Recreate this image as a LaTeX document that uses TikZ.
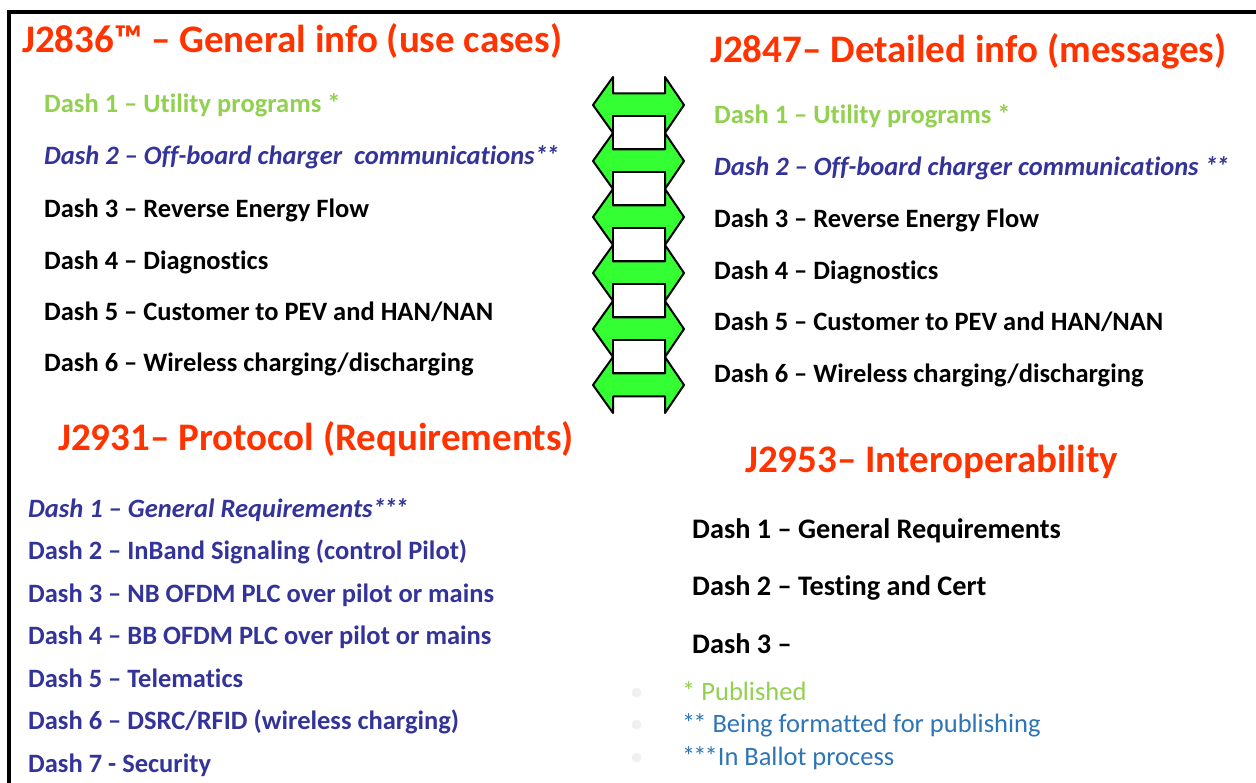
\documentclass[tikz,border=0pt]{standalone}
\usepackage{fontspec}
\setmainfont[Ligatures={NoCommon}]{Carlito}
\definecolor{titlered}{HTML}{FF3300}
\definecolor{pubgreen}{HTML}{92D050}
\definecolor{dashblue}{HTML}{333399}
\definecolor{noteblue}{HTML}{2E75B6}
\definecolor{arrowgreen}{HTML}{33FF33}
% tightly set asterisks
\newcommand\twostars{*\kern-2pt*}
\newcommand\threestars{*\kern-2pt*\kern-2pt*}
\begin{document}
\begin{tikzpicture}[x=1pt,y=-1pt,
  title/.style={anchor=base west, inner sep=0pt, text=titlered,
    font=\fontsize{39}{39}\selectfont\bfseries},
  item/.style={anchor=base west, inner sep=0pt,
    font=\fontsize{26.5}{26.5}\selectfont\bfseries},
  bigitem/.style={anchor=base west, inner sep=0pt,
    font=\fontsize{28.3}{28.3}\selectfont\bfseries},
  note/.style={anchor=base west, inner sep=0pt,
    font=\fontsize{26.5}{26.5}\selectfont},
  pub/.style={text=pubgreen},
  blue/.style={text=dashblue},
  arrowbox/.style={fill=arrowgreen, draw=black, line width=2pt, line join=round},
  rung/.style={fill=white, draw=black, line width=2pt}]
\useasboundingbox (0,0) rectangle (1256,783);
\fill[white] (0,0) rectangle (1256,783);
% frame
\draw[line width=4pt] (9,783) -- (9,12) -- (1256,12);

% ladder of double arrows
\foreach \i in {0,...,5} {
  \pgfmathsetmacro\cy{105+56*\i}
  \draw[arrowbox] (593,\cy) -- (613,{\cy-28}) -- (613,{\cy-11.5}) -- (665,{\cy-11.5})
    -- (665,{\cy-28}) -- (684,\cy) -- (665,{\cy+28}) -- (665,{\cy+11.5})
    -- (613,{\cy+11.5}) -- (613,{\cy+28}) -- cycle;
}
\foreach \i in {0,...,4} {
  \pgfmathsetmacro\ya{105+56*\i+11.5}
  \pgfmathsetmacro\yb{105+56*(\i+1)-11.5}
  \draw[rung] (613,\ya) rectangle (665,\yb);
}

% J2836
\node[title] (t1) at (22,53) {J2836™ – General info (use cases)};
\node[item,pub] (a1) at (44,113) {Dash 1 – Utility programs *};
\node[item,blue] (a2) at (44,165) {\itshape Dash 2 – Off-board charger\ \ communications\twostars};
\node[item] (a3) at (44,218) {Dash 3 – Reverse Energy Flow};
\node[item] (a4) at (44,270) {Dash 4 – Diagnostics};
\node[item] (a5) at (44,321) {Dash 5 – Customer to PEV and HAN/NAN};
\node[item] (a6) at (44,372) {Dash 6 – Wireless charging/discharging};

% J2847
\node[title] (t2) at (710,63) {J2847– Detailed info (messages)};
\node[item,pub] (b1) at (714,124) {Dash 1 – Utility programs *};
\node[item,blue] (b2) at (714,176) {\itshape Dash 2 – Off-board charger communications \twostars};
\node[item] (b3) at (714,228) {Dash 3 – Reverse Energy Flow};
\node[item] (b4) at (714,280) {Dash 4 – Diagnostics};
\node[item] (b5) at (714,331) {Dash 5 – Customer to PEV and HAN/NAN};
\node[item] (b6) at (714,383) {Dash 6 – Wireless charging/discharging};

% J2931
\node[title] (t3) at (58,450) {J2931– Protocol (Requirements)};
\node[item,blue] (c1) at (28,517) {\itshape Dash 1 – General Requirements\threestars};
\node[item,blue] (c2) at (28,559) {Dash 2 – InBand Signaling (control Pilot)};
\node[item,blue] (c3) at (28,602) {Dash 3 – NB OFDM PLC over pilot or mains};
\node[item,blue] (c4) at (28,644) {Dash 4 – BB OFDM PLC over pilot or mains};
\node[item,blue] (c5) at (28,687) {Dash 5 – Telematics};
\node[item,blue] (c6) at (28,729) {Dash 6 – DSRC/RFID (wireless charging)};
\node[item,blue] (c7) at (28,772) {Dash 7 - Security};

% J2953
\node[title] (t4) at (745,472) {J2953– Interoperability};
\node[bigitem] (d1) at (692,538) {Dash 1 – General Requirements};
\node[bigitem] (d2) at (692,595) {Dash 2 – Testing and Cert};
\node[bigitem] (d3) at (692,653) {Dash 3 –};

% status notes
\node[note,text=black!6] (m1) at (630,700) {•};
\node[note,text=black!6] (m2) at (630,732) {•};
\node[note,text=black!6] (m3) at (630,765) {•};
\node[note,pub] (n1) at (682,700) {* Published};
\node[note,text=noteblue] (n2) at (682,732) {\twostars{} Being formatted for publishing};
\node[note,text=noteblue] (n3) at (682,765) {\threestars In Ballot process};
\end{tikzpicture}
\end{document}
